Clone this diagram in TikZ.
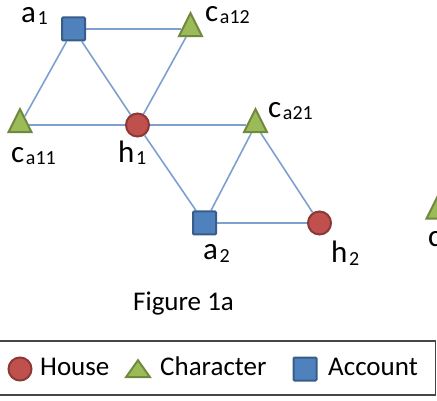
\documentclass[tikz,border=0pt]{standalone}
\usepackage{fontspec}
\setmainfont{Carlito}
\usepackage{tikz}
\usetikzlibrary{shapes.geometric,backgrounds}
\definecolor{housefill}{RGB}{192,80,77}
\definecolor{housedraw}{RGB}{140,56,54}
\definecolor{charfill}{RGB}{155,187,89}
\definecolor{chardraw}{RGB}{113,137,63}
\definecolor{accfill}{RGB}{79,129,189}
\definecolor{accdraw}{RGB}{56,93,138}
\definecolor{linkcolor}{RGB}{125,160,208}
\definecolor{framecolor}{RGB}{70,70,70}
\newcommand{\thickness}{2pt}
\newcommand{\lsize}{\fontsize{31}{31}\selectfont}
\newcommand{\ssize}{\fontsize{20}{20}\selectfont}
\newcommand{\tsize}{\fontsize{27}{27}\selectfont}
\newcommand{\lab}[2]{{\lsize #1}\,\raisebox{-2pt}{\ssize #2}}

\begin{document}
\begin{tikzpicture}[x=1pt,y=-1pt,
  house/.style={circle,fill=housefill,draw=housedraw,line width=\thickness,minimum size=23pt,inner sep=0pt},
  character/.style={isosceles triangle,isosceles triangle stretches,shape border rotate=90,
    fill=charfill,draw=chardraw,line width=\thickness,minimum width=23pt,minimum height=23pt,inner sep=0pt},
  account/.style={rectangle,rounded corners=1pt,fill=accfill,draw=accdraw,line width=\thickness,minimum size=23pt,inner sep=0pt},
  link/.style={linkcolor,line width=1.6pt},
  lbl/.style={inner sep=0pt,anchor=base west}]
\useasboundingbox (0,0) rectangle (437,401);
\clip (0,0) rectangle (437,401);
%nodes
\node[account] (a1) at (73.5, 29.0) {};
\node[character] (ca12) at (190.5, 29.0) {};
\node[character] (ca11) at (20.0, 125.0) {};
\node[house] (h1) at (137.5, 125.0) {};
\node[character] (ca21) at (255.5, 125.0) {};
\node[account] (a2) at (204.5, 223.0) {};
\node[house] (h2) at (319.5, 223.0) {};
\node[character] (c3) at (438.0, 211.5) {};
%labels
\node[lbl] (la1) at (21, 23) {\lab{a}{1}};
\node[lbl] (lca12) at (205, 22) {\lab{c}{a12}};
\node[lbl] (lca11) at (11, 163) {\lab{c}{a11}};
\node[lbl] (lh1) at (118, 163) {\lab{h}{1}};
\node[lbl] (lca21) at (268, 118) {\lab{c}{a21}};
\node[lbl] (la2) at (203, 260) {\lab{a}{2}};
\node[lbl] (lh2) at (331, 263) {\lab{h}{2}};
\node[lbl] (lc3) at (428, 247) {\lsize c};
%edges
\begin{scope}[on background layer]
\draw[link] (a1) -- (ca12);
\draw[link] (a1) -- (ca11);
\draw[link] (a1) -- (h1);
\draw[link] (ca11) -- (h1);
\draw[link] (h1) -- (ca12);
\draw[link] (h1) -- (ca21);
\draw[link] (h1) -- (a2);
\draw[link] (a2) -- (ca21);
\draw[link] (ca21) -- (h2);
\draw[link] (a2) -- (h2);
\end{scope}
%caption
\node[lbl] (fig) at (133, 310) {\tsize Figure 1a};
%legend
\draw[framecolor,line width=1.5pt] (-5, 341) -- (435.5, 341) -- (435.5, 395) -- (-5, 395);
\node[house] (kh) at (20, 369) {};
\node[lbl] (kht) at (40, 375) {\tsize House};
\node[character,minimum width=24pt,minimum height=17pt] (kc) at (138, 371) {};
\node[lbl] (kct) at (160, 375) {\tsize Character};
\node[account] (ka) at (305, 369) {};
\node[lbl] (kat) at (328, 375) {\tsize Account};
\end{tikzpicture}
\end{document}
